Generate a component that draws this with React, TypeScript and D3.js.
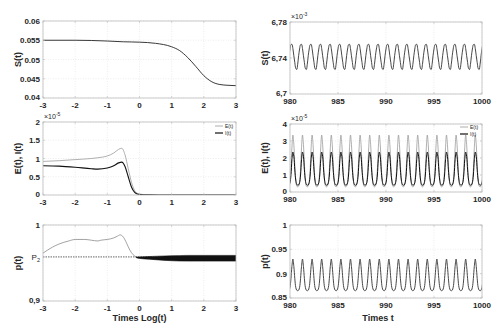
import React from "react";
import * as d3 from "d3";

// ---------- DATA ----------
// Left column: time on log10 scale
const sLogT = [-3, -2, -1, -0.5, 0, 0.5, 1, 1.25, 1.5, 1.75, 2, 2.25, 2.5, 2.75, 3];
const sLeft = [0.055, 0.055, 0.0548, 0.0546, 0.0545, 0.0542, 0.0533, 0.0523, 0.0505, 0.0482, 0.0458, 0.0442, 0.0435, 0.0433, 0.0432];

const eiLogT = [-3, -2.5, -2, -1.5, -1.3, -1, -0.8, -0.65, -0.55, -0.45, -0.35, -0.25, -0.15, -0.05, 0.1, 0.3, 0.6, 1, 2, 3];
const eLeft = [0.92, 0.94, 0.97, 1.0, 1.02, 1.07, 1.15, 1.25, 1.28, 1.1, 0.72, 0.35, 0.12, 0.04, 0.015, 0.005, 0, 0, 0, 0];
const iLeft = [0.8, 0.79, 0.76, 0.72, 0.71, 0.74, 0.8, 0.88, 0.9, 0.78, 0.5, 0.22, 0.07, 0.02, 0.008, 0.003, 0, 0, 0, 0];

const pLogT = [-3, -2.7, -2.5, -2.2, -2, -1.7, -1.5, -1.3, -1.2, -1, -0.8, -0.7, -0.6, -0.5, -0.4, -0.3, -0.2, -0.1];
const pLeft = [0.963, 0.971, 0.975, 0.979, 0.981, 0.981, 0.98, 0.979, 0.98, 0.981, 0.983, 0.985, 0.987, 0.984, 0.976, 0.967, 0.961, 0.958];
// dense oscillation band (envelopes)
const bandLogT = [-0.1, 0, 0.3, 0.6, 1, 1.5, 2, 2.5, 3];
const bandUpper = [0.958, 0.958, 0.9585, 0.959, 0.9595, 0.96, 0.96, 0.96, 0.96];
const bandLower = [0.957, 0.956, 0.955, 0.954, 0.953, 0.9525, 0.9525, 0.9525, 0.9525];
const p2Level = 0.958;

// Right column: one period (Δt = 1) of the periodic regime, sampled at phases 0, 0.1, ... 0.9
const cyclePhase = [0, 0.1, 0.2, 0.3, 0.4, 0.5, 0.6, 0.7, 0.8, 0.9];
const sCycle = [6.75, 6.7548, 6.7552, 6.7505, 6.7425, 6.735, 6.7285, 6.7272, 6.733, 6.7425];
const eCycle = [0.6, 1.3, 2.6, 3.35, 2.8, 1.6, 0.7, 0.35, 0.3, 0.35];
const iCycle = [0.55, 1.0, 1.9, 2.35, 2.1, 1.3, 0.7, 0.45, 0.4, 0.42];
const pCycle = [0.872, 0.89, 0.915, 0.93, 0.915, 0.89, 0.872, 0.866, 0.865, 0.866];
const tStart = 980;
const tEnd = 1000;

const leftXTicks = [-3, -2, -1, 0, 1, 2, 3];
const rightXTicks = [980, 985, 990, 995, 1000];

// ---------- BUILD ----------
function tile(cycle: number[]) {
  const pts: [number, number][] = [];
  for (let k = tStart - 1; k <= tEnd; k++) {
    cyclePhase.forEach((ph, j) => {
      const t = k + ph;
      if (t >= tStart - 0.2 && t <= tEnd + 0.2) pts.push([t, cycle[j]]);
    });
  }
  return pts;
}

const FONT = "'Liberation Sans', Arial, sans-serif";
const BOX = "#bdbdbd";
const GRID = "#e2e2e2";
const TXT = "#262626";

type PanelProps = {
  x0: number; x1: number; y0: number; y1: number;
  xd: [number, number]; yd: [number, number];
  xTicks: number[]; yTicks: number[];
  yFmt: (v: number) => string;
  ylabel: string;
  ylabelX: number;
  exp?: string;
  render: (x: d3.ScaleLinear<number, number>, y: d3.ScaleLinear<number, number>) => React.ReactNode;
  extraYLabels?: React.ReactNode;
  id: string;
};

function Panel(p: PanelProps) {
  const x = d3.scaleLinear().domain(p.xd).range([p.x0, p.x1]);
  const y = d3.scaleLinear().domain(p.yd).range([p.y1, p.y0]);
  return (
    <g>
      <defs>
        <clipPath id={p.id}>
          <rect x={p.x0} y={p.y0} width={p.x1 - p.x0} height={p.y1 - p.y0} />
        </clipPath>
      </defs>
      <rect x={p.x0} y={p.y0} width={p.x1 - p.x0} height={p.y1 - p.y0} fill="white" />
      <g stroke={GRID} strokeWidth={0.6} strokeDasharray="1,1.5">
        {p.xTicks.map((t) => (
          <line key={"gx" + t} x1={x(t)} x2={x(t)} y1={p.y0} y2={p.y1} />
        ))}
        {p.yTicks.map((t) => (
          <line key={"gy" + t} x1={p.x0} x2={p.x1} y1={y(t)} y2={y(t)} />
        ))}
      </g>
      <g clipPath={`url(#${p.id})`}>{p.render(x, y)}</g>
      <rect x={p.x0} y={p.y0} width={p.x1 - p.x0} height={p.y1 - p.y0} fill="none" stroke={BOX} strokeWidth={0.8} />
      <g stroke={BOX} strokeWidth={0.6}>
        {p.xTicks.map((t) => (
          <g key={"tx" + t}>
            <line x1={x(t)} x2={x(t)} y1={p.y1} y2={p.y1 - 2} />
            <line x1={x(t)} x2={x(t)} y1={p.y0} y2={p.y0 + 2} />
          </g>
        ))}
        {p.yTicks.map((t) => (
          <g key={"ty" + t}>
            <line x1={p.x0} x2={p.x0 + 2} y1={y(t)} y2={y(t)} />
            <line x1={p.x1} x2={p.x1 - 2} y1={y(t)} y2={y(t)} />
          </g>
        ))}
      </g>
      <g fontFamily={FONT} fontSize={8} fontWeight="bold" fill={TXT}>
        {p.xTicks.map((t) => (
          <text key={"lx" + t} x={x(t)} y={p.y1 + 10} textAnchor="middle">
            {t < 0 ? "-" + Math.abs(t) : String(t)}
          </text>
        ))}
        {p.yTicks.map((t, i) => (
          <text key={"ly" + t} x={p.x0 - 3} y={y(t) + (i === 0 ? 1.5 : 3)} textAnchor="end">
            {p.yFmt(t)}
          </text>
        ))}
        {p.extraYLabels}
      </g>
      {p.exp && (
        <text x={p.x0 + 1} y={p.y0 - 3} fontFamily={FONT} fontSize={7} fill={TXT}>
          ×10
          <tspan fontSize={5} dy={-3}>{p.exp}</tspan>
        </text>
      )}
      <text
        transform={`translate(${p.ylabelX},${(p.y0 + p.y1) / 2}) rotate(-90)`}
        textAnchor="middle"
        fontFamily={FONT}
        fontSize={9}
        fontWeight="bold"
        fill={TXT}
      >
        {p.ylabel}
      </text>
    </g>
  );
}

function Legend({ x, y }: { x: number; y: number }) {
  return (
    <g fontFamily={FONT} fontSize={5} fill={TXT}>
      <line x1={x} x2={x + 8} y1={y} y2={y} stroke="#9a9a9a" strokeWidth={0.8} />
      <text x={x + 10} y={y + 1.8}>E(t)</text>
      <line x1={x} x2={x + 8} y1={y + 7} y2={y + 7} stroke="#111" strokeWidth={1.2} />
      <text x={x + 10} y={y + 8.8}>I(t)</text>
    </g>
  );
}

export default function App() {
  const L = { x0: 43, x1: 236 };
  const R = { x0: 290, x1: 482 };
  const comma = (v: number) => String(v).replace(".", ",");
  const plain = (v: number) => String(v);

  const sPts = tile(sCycle);
  const ePts = tile(eCycle);
  const iPts = tile(iCycle);
  const pPts = tile(pCycle);

  return (
    <svg width={500} height={334} style={{ position: "absolute", left: 0, top: 0, background: "white" }}>
      {/* Top-left */}
      <Panel
        id="c1" {...L} y0={21} y1={98}
        xd={[-3, 3]} yd={[0.04, 0.06]}
        xTicks={leftXTicks} yTicks={[0.04, 0.045, 0.05, 0.055, 0.06]}
        yFmt={plain} ylabel="S(t)" ylabelX={21}
        render={(x, y) => (
          <path
            d={d3.line<number>().x((_, i) => x(sLogT[i])).y((v) => y(v)).curve(d3.curveMonotoneX)(sLeft) || ""}
            fill="none" stroke="#222" strokeWidth={0.9}
          />
        )}
      />
      {/* Middle-left */}
      <Panel
        id="c2" {...L} y0={122} y1={195}
        xd={[-3, 3]} yd={[0, 2]}
        xTicks={leftXTicks} yTicks={[0, 0.5, 1, 1.5, 2]}
        yFmt={plain} ylabel="E(t), I(t)" ylabelX={21} exp="-5"
        render={(x, y) => (
          <g>
            <path
              d={d3.line<number>().x((_, i) => x(eiLogT[i])).y((v) => y(v)).curve(d3.curveMonotoneX)(eLeft) || ""}
              fill="none" stroke="#9a9a9a" strokeWidth={0.8}
            />
            <path
              d={d3.line<number>().x((_, i) => x(eiLogT[i])).y((v) => y(v)).curve(d3.curveMonotoneX)(iLeft) || ""}
              fill="none" stroke="#111" strokeWidth={1.1}
            />
          </g>
        )}
      />
      <Legend x={215} y={126} />
      {/* Bottom-left */}
      <Panel
        id="c3" {...L} y0={225} y1={301}
        xd={[-3, 3]} yd={[0.9, 1]}
        xTicks={leftXTicks} yTicks={[0.9, 1]}
        yFmt={comma} ylabel="p(t)" ylabelX={21}
        extraYLabels={
          <text x={L.x0 - 3} y={d3.scaleLinear().domain([0.9, 1]).range([301, 225])(p2Level) + 3} textAnchor="end" fontWeight="normal" fontSize={8}>
            P<tspan fontSize={5.5} dy={2}>2</tspan>
          </text>
        }
        render={(x, y) => (
          <g>
            <line x1={x(-3)} x2={x(3)} y1={y(p2Level)} y2={y(p2Level)} stroke="#222" strokeWidth={0.7} strokeDasharray="1.5,1" />
            <path
              d={d3.line<number>().x((_, i) => x(pLogT[i])).y((v) => y(v)).curve(d3.curveMonotoneX)(pLeft) || ""}
              fill="none" stroke="#8a8a8a" strokeWidth={0.8}
            />
            <path
              d={
                d3.area<number>()
                  .x((_, i) => x(bandLogT[i]))
                  .y0((_, i) => y(bandLower[i]))
                  .y1((v) => y(v))
                  .curve(d3.curveMonotoneX)(bandUpper) || ""
              }
              fill="#111" stroke="#111" strokeWidth={0.6}
            />
          </g>
        )}
      />
      <text x={(L.x0 + L.x1) / 2} y={321} textAnchor="middle" fontFamily={FONT} fontSize={9} fontWeight="bold" fill={TXT}>
        Times Log(t)
      </text>

      {/* Top-right */}
      <Panel
        id="c4" {...R} y0={22} y1={94}
        xd={[tStart, tEnd]} yd={[6.7, 6.78]}
        xTicks={rightXTicks} yTicks={[6.7, 6.74, 6.78]}
        yFmt={comma} ylabel="S(t)" ylabelX={268} exp="-3"
        render={(x, y) => (
          <path
            d={d3.line<[number, number]>().x((d) => x(d[0])).y((d) => y(d[1])).curve(d3.curveCatmullRom)(sPts) || ""}
            fill="none" stroke="#333" strokeWidth={0.9}
          />
        )}
      />
      {/* Middle-right */}
      <Panel
        id="c5" {...R} y0={124} y1={192}
        xd={[tStart, tEnd]} yd={[0, 4]}
        xTicks={rightXTicks} yTicks={[0, 1, 2, 3, 4]}
        yFmt={plain} ylabel="E(t), I(t)" ylabelX={268} exp="-5"
        render={(x, y) => (
          <g>
            <path
              d={d3.line<[number, number]>().x((d) => x(d[0])).y((d) => y(d[1])).curve(d3.curveCatmullRom)(ePts) || ""}
              fill="none" stroke="#9a9a9a" strokeWidth={0.8}
            />
            <path
              d={d3.line<[number, number]>().x((d) => x(d[0])).y((d) => y(d[1])).curve(d3.curveCatmullRom)(iPts) || ""}
              fill="none" stroke="#111" strokeWidth={1.0}
            />
          </g>
        )}
      />
      <Legend x={460} y={127} />
      {/* Bottom-right */}
      <Panel
        id="c6" {...R} y0={225} y1={298}
        xd={[tStart, tEnd]} yd={[0.85, 1]}
        xTicks={rightXTicks} yTicks={[0.85, 0.9, 0.95, 1]}
        yFmt={plain} ylabel="p(t)" ylabelX={268}
        render={(x, y) => (
          <path
            d={d3.line<[number, number]>().x((d) => x(d[0])).y((d) => y(d[1])).curve(d3.curveCatmullRom)(pPts) || ""}
            fill="none" stroke="#333" strokeWidth={0.9}
          />
        )}
      />
      <text x={(R.x0 + R.x1) / 2 - 8} y={321} textAnchor="middle" fontFamily={FONT} fontSize={9} fontWeight="bold" fill={TXT}>
        Times t
      </text>
    </svg>
  );
}
